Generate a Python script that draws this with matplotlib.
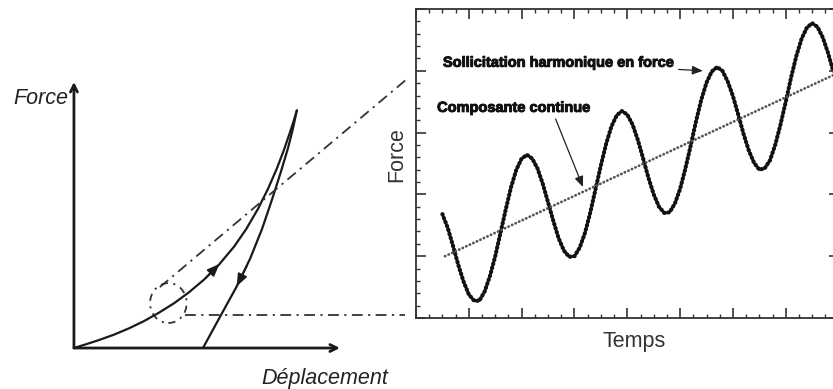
import matplotlib
matplotlib.use("Agg")
import matplotlib.pyplot as plt
import matplotlib.patheffects as pe
from matplotlib.patches import Ellipse
from matplotlib.ticker import MultipleLocator

plt.rcParams['font.family'] = ['Liberation Sans', 'DejaVu Sans']

# ---------------- data: left schematic (Déplacement / Force, arbitrary units)
load_disp = [0.0, 0.45, 0.94, 1.50, 2.07, 2.63, 3.20, 3.76, 4.32, 4.89, 5.45,
             6.02, 6.47, 6.92, 7.29, 7.63, 7.89, 8.12, 8.27, 8.38]
load_force = [0.0, 0.14, 0.30, 0.50, 0.74, 1.01, 1.33, 1.68, 2.09, 2.57, 3.13,
              3.81, 4.46, 5.23, 5.97, 6.75, 7.43, 8.10, 8.56, 8.93]
unload_disp = [8.38, 8.23, 8.05, 7.78, 7.44, 7.07, 6.62, 6.09, 5.49, 4.85]
unload_force = [8.93, 8.23, 7.52, 6.62, 5.56, 4.47, 3.35, 2.26, 1.17, 0.0]
tangent_disp = [3.23, 12.52]
tangent_force = [2.29, 10.11]
mean_level_disp = [4.17, 12.44]
mean_level_force = [1.24, 1.24]
axis_max = 10.0

# ---------------- data: right chart (Temps / Force, arbitrary units)
temps = [0.5, 0.6, 0.7, 0.8, 0.9, 1.0, 1.1, 1.2, 1.3, 1.4, 1.5, 1.6, 1.7, 1.8,
         1.9, 2.0, 2.1, 2.2, 2.3, 2.4, 2.5, 2.6, 2.7, 2.8, 2.9, 3.0, 3.1, 3.2,
         3.3, 3.4, 3.5, 3.6, 3.7, 3.8, 3.9, 4.0, 4.1, 4.2, 4.3, 4.4, 4.5, 4.6,
         4.7, 4.8, 4.9, 5.0, 5.1, 5.2, 5.3, 5.4, 5.5, 5.6, 5.7, 5.8, 5.9, 6.0,
         6.1, 6.2, 6.3, 6.4, 6.5, 6.6, 6.7, 6.8, 6.9, 7.0, 7.1, 7.2, 7.3, 7.4,
         7.5, 7.6, 7.7, 7.8, 7.9]
force = [1.68, 1.46, 1.17, 0.86, 0.59, 0.38, 0.28, 0.28, 0.43, 0.68, 1.00, 1.38,
         1.76, 2.12, 2.40, 2.58, 2.64, 2.58, 2.42, 2.17, 1.87, 1.57, 1.29, 1.09,
         0.99, 1.00, 1.14, 1.38, 1.71, 2.09, 2.47, 2.82, 3.10, 3.28, 3.35, 3.29,
         3.13, 2.88, 2.58, 2.27, 2.00, 1.80, 1.70, 1.71, 1.85, 2.09, 2.42, 2.79,
         3.18, 3.53, 3.81, 3.99, 4.06, 4.00, 3.83, 3.59, 3.29, 2.98, 2.71, 2.51,
         2.40, 2.42, 2.55, 2.80, 3.13, 3.50, 3.89, 4.24, 4.52, 4.70, 4.77, 4.71,
         4.54, 4.29, 3.99]
trend_temps = [0.55, 7.95]
trend_force = [1.00, 3.95]

W, H = 833, 389
fig = plt.figure(figsize=(W / 100, H / 100), dpi=100)

# ================= left schematic =================
axl = fig.add_axes([0, 0, 412 / W, 1])
axl.set_xlim(-2.78, 12.71)
axl.set_ylim(-1.54, 13.08)
axl.axis('off')

ink = '#1a1a1a'
axl.annotate('', xy=(0, axis_max), xytext=(0, 0),
             arrowprops=dict(arrowstyle='->,head_length=0.5,head_width=0.25',
                             lw=2.0, color=ink, shrinkA=0, shrinkB=0))
axl.annotate('', xy=(axis_max, 0), xytext=(0, 0),
             arrowprops=dict(arrowstyle='->,head_length=0.5,head_width=0.25',
                             lw=2.0, color=ink, shrinkA=0, shrinkB=0))
axl.text(-1.24, 9.36, 'Force', style='italic', fontsize=15.5, color='#222',
         ha='center', va='center')
axl.text(9.44, -1.13, 'Déplacement', style='italic', fontsize=15.5, color='#222',
         ha='center', va='center')

axl.plot(load_disp, load_force, color=ink, lw=1.6, solid_capstyle='round',
         solid_joinstyle='round')
axl.plot(unload_disp, unload_force, color=ink, lw=1.6, solid_capstyle='round',
         solid_joinstyle='round')
axl.annotate('', xy=(5.47, 3.16), xytext=(4.95, 2.63),
             arrowprops=dict(arrowstyle='-|>,head_length=0.75,head_width=0.3',
                             lw=1.2, color=ink, shrinkA=0, shrinkB=0))
axl.annotate('', xy=(6.12, 2.32), xytext=(6.50, 3.08),
             arrowprops=dict(arrowstyle='-|>,head_length=0.75,head_width=0.3',
                             lw=1.2, color=ink, shrinkA=0, shrinkB=0))
dd = (0, (6, 3, 1.2, 3))
axl.plot(tangent_disp, tangent_force, color='#333', lw=1.3, ls=dd)
axl.plot(mean_level_disp, mean_level_force, color='#333', lw=1.3, ls=dd)
axl.add_patch(Ellipse((3.55, 1.69), 1.38, 1.5, fill=False, ec='#333', lw=1.3,
                      ls=(0, (4, 3, 1.2, 3))))

# ================= right chart =================
axr = fig.add_axes([416 / W, (H - 318) / H, 422.6 / W, 309 / H])
axr.set_xlim(0, 8)
axr.set_ylim(0, 5)
for sp in axr.spines.values():
    sp.set_linewidth(1.3)
    sp.set_color('#333')
axr.xaxis.set_major_locator(MultipleLocator(1))
axr.xaxis.set_minor_locator(MultipleLocator(0.25))
axr.yaxis.set_major_locator(MultipleLocator(1))
axr.yaxis.set_minor_locator(MultipleLocator(0.2))
axr.tick_params(which='both', direction='in', top=True, right=True,
                labelbottom=False, labelleft=False, color='#333')
axr.tick_params(which='major', length=7, width=1.2)
axr.tick_params(which='minor', length=3, width=1.0)

axr.plot(temps, force, color='#555', lw=2.2, solid_capstyle='round')
axr.plot(temps, force, color='#111', lw=3.0, ls=(0, (0.1, 0.9)),
         dash_capstyle='round')
axr.plot(trend_temps, trend_force, color='#555', lw=2.0, ls=(0, (0.1, 1.3)),
         dash_capstyle='round')

bold_fx = [pe.withStroke(linewidth=0.7, foreground='#111')]
axr.annotate('Sollicitation harmonique en force', xy=(5.43, 4.00),
             xytext=(0.51, 4.13), ha='left', va='center', fontsize=10.5,
             fontweight='bold', color='#111', path_effects=bold_fx,
             arrowprops=dict(arrowstyle='-|>,head_length=0.6,head_width=0.25',
                             lw=0.9, color='#222', shrinkA=1, shrinkB=0))
axr.annotate('Composante continue', xy=(3.16, 2.12),
             xytext=(0.40, 3.40), ha='left', va='center', fontsize=10.5,
             fontweight='bold', color='#111', path_effects=bold_fx,
             arrowprops=dict(arrowstyle='-|>,head_length=0.6,head_width=0.25',
                             lw=0.9, color='#222', shrinkA=1, shrinkB=0,
                             relpos=(0.76, 0.0)))

fig.text(397 / W, 1 - 155 / H, 'Force', rotation=90, fontsize=15.5,
         color='#333', ha='center', va='center')
fig.text(634 / W, 1 - 342 / H, 'Temps', fontsize=15.5, color='#333',
         ha='center', va='center')

fig.savefig('out.png', dpi=100, facecolor='white')
